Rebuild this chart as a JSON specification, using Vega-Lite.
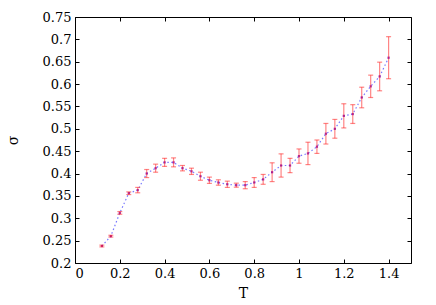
{
  "$schema": "https://vega.github.io/schema/vega-lite/v6.json",
  "width": 336,
  "height": 246,
  "autosize": "none",
  "padding": {"left": 75, "top": 17, "right": 25, "bottom": 42},
  "background": "white",
  "config": {
    "view": {"stroke": "black", "strokeWidth": 1},
    "font": "DejaVu Serif",
    "axis": {
      "labelFont": "DejaVu Serif",
      "titleFont": "DejaVu Serif",
      "labelFontSize": 13,
      "titleFontSize": 14,
      "titleFontWeight": "normal",
      "labelColor": "black",
      "titleColor": "black",
      "grid": false,
      "domain": false,
      "ticks": true,
      "tickColor": "black",
      "tickWidth": 1,
      "tickSize": -4,
      "labelPadding": 8
    }
  },
  "data": {
    "values": [
      {"T": 0.12, "s": 0.238, "e": 0.002},
      {"T": 0.16, "s": 0.260, "e": 0.002},
      {"T": 0.20, "s": 0.312, "e": 0.003},
      {"T": 0.24, "s": 0.356, "e": 0.003},
      {"T": 0.28, "s": 0.363, "e": 0.006},
      {"T": 0.32, "s": 0.400, "e": 0.009},
      {"T": 0.36, "s": 0.412, "e": 0.009},
      {"T": 0.40, "s": 0.425, "e": 0.009},
      {"T": 0.44, "s": 0.425, "e": 0.010},
      {"T": 0.48, "s": 0.412, "e": 0.006},
      {"T": 0.52, "s": 0.405, "e": 0.007},
      {"T": 0.56, "s": 0.394, "e": 0.009},
      {"T": 0.60, "s": 0.385, "e": 0.007},
      {"T": 0.64, "s": 0.380, "e": 0.006},
      {"T": 0.68, "s": 0.376, "e": 0.007},
      {"T": 0.72, "s": 0.374, "e": 0.0045},
      {"T": 0.76, "s": 0.374, "e": 0.008},
      {"T": 0.80, "s": 0.380, "e": 0.011},
      {"T": 0.84, "s": 0.387, "e": 0.011},
      {"T": 0.88, "s": 0.403, "e": 0.021},
      {"T": 0.92, "s": 0.418, "e": 0.026},
      {"T": 0.96, "s": 0.418, "e": 0.016},
      {"T": 1.00, "s": 0.439, "e": 0.016},
      {"T": 1.04, "s": 0.445, "e": 0.025},
      {"T": 1.08, "s": 0.460, "e": 0.015},
      {"T": 1.12, "s": 0.489, "e": 0.023},
      {"T": 1.16, "s": 0.500, "e": 0.021},
      {"T": 1.20, "s": 0.529, "e": 0.027},
      {"T": 1.24, "s": 0.533, "e": 0.021},
      {"T": 1.28, "s": 0.570, "e": 0.023},
      {"T": 1.32, "s": 0.595, "e": 0.025},
      {"T": 1.36, "s": 0.617, "e": 0.032},
      {"T": 1.40, "s": 0.659, "e": 0.047}
    ]
  },
  "layer": [
    {
      "mark": {"type": "line", "color": "#4040ff", "strokeDash": [1.5, 2.5], "strokeWidth": 1.2, "opacity": 0.7},
      "encoding": {
        "x": {
          "field": "T", "type": "quantitative",
          "scale": {"domain": [0, 1.5], "nice": false, "zero": false},
          "axis": {"title": "T", "values": [0, 0.2, 0.4, 0.6, 0.8, 1, 1.2, 1.4], "format": "~g", "titlePadding": 6}
        },
        "y": {
          "field": "s", "type": "quantitative",
          "scale": {"domain": [0.2, 0.75], "nice": false, "zero": false},
          "axis": {"title": "σ", "values": [0.2, 0.25, 0.3, 0.35, 0.4, 0.45, 0.5, 0.55, 0.6, 0.65, 0.7, 0.75], "format": "~g", "titlePadding": 22}
        }
      }
    },
    {
      "mark": {"type": "square", "color": "#8000b0", "size": 5, "opacity": 0.8},
      "encoding": {
        "x": {"field": "T", "type": "quantitative", "axis": {"orient": "top", "labels": false, "title": null, "values": [0, 0.2, 0.4, 0.6, 0.8, 1, 1.2, 1.4]}},
        "y": {"field": "s", "type": "quantitative", "axis": {"orient": "right", "labels": false, "title": null, "values": [0.2, 0.25, 0.3, 0.35, 0.4, 0.45, 0.5, 0.55, 0.6, 0.65, 0.7, 0.75]}}
      }
    },
    {
      "mark": {"type": "errorbar", "ticks": {"size": 5}, "color": "#ff2020", "opacity": 0.55, "thickness": 1.2},
      "encoding": {
        "x": {"field": "T", "type": "quantitative", "axis": null},
        "y": {"field": "s", "type": "quantitative", "axis": null},
        "yError": {"field": "e"}
      }
    }
  ],
  "resolve": {"axis": {"x": "independent", "y": "independent"}}
}
